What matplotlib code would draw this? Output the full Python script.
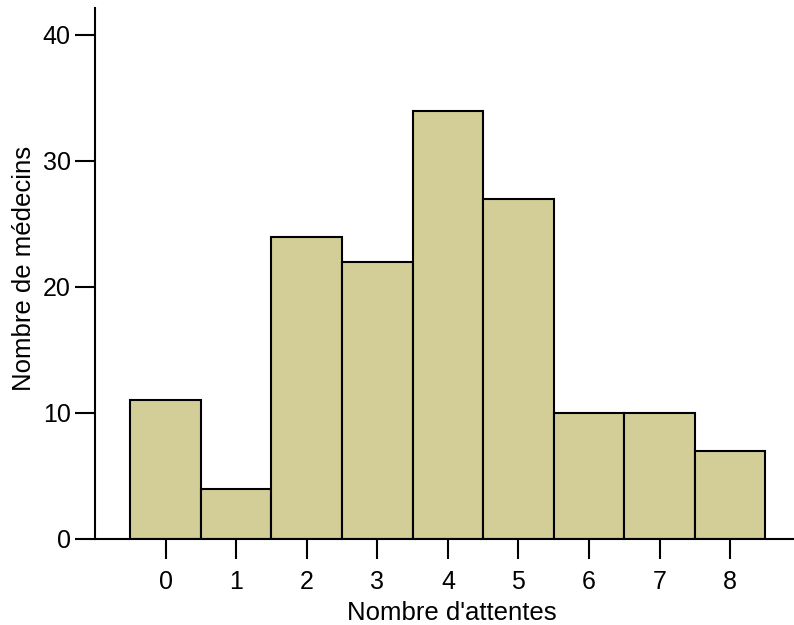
import matplotlib
matplotlib.use("Agg")
import matplotlib.pyplot as plt

categories = [0, 1, 2, 3, 4, 5, 6, 7, 8]
counts = [11, 4, 24, 22, 34, 27, 10, 10, 7]
yticks = [0, 10, 20, 30, 40]

plt.rcParams['font.family'] = ['Liberation Sans', 'DejaVu Sans']

fig = plt.figure(figsize=(7.94, 6.25), dpi=100)
ax = fig.add_axes([95/794, 1-539/625, (793-95)/794, (539-8)/625])

ax.bar(categories, counts, width=1.0, color='#D3CE98', edgecolor='black',
       linewidth=1.5, zorder=2)

ax.set_xlim(-1.0, 8.89)
ax.set_ylim(0, 42.14)
ax.set_xticks(categories)
ax.set_yticks(yticks)
for s in ['top', 'right']:
    ax.spines[s].set_visible(False)
for s in ['left', 'bottom']:
    ax.spines[s].set_linewidth(1.5)
ax.tick_params(axis='both', direction='out', length=14.4, width=1.5,
               labelsize=18)
ax.tick_params(axis='x', pad=8)
ax.tick_params(axis='y', pad=3)
ax.set_xlabel("Nombre d'attentes", fontsize=18.5)
ax.xaxis.set_label_coords(0.511, -0.116)
ax.set_ylabel("Nombre de médecins", fontsize=18.5)
ax.yaxis.set_label_coords(-0.085, 0.51)

fig.savefig("out.png", dpi=100)
